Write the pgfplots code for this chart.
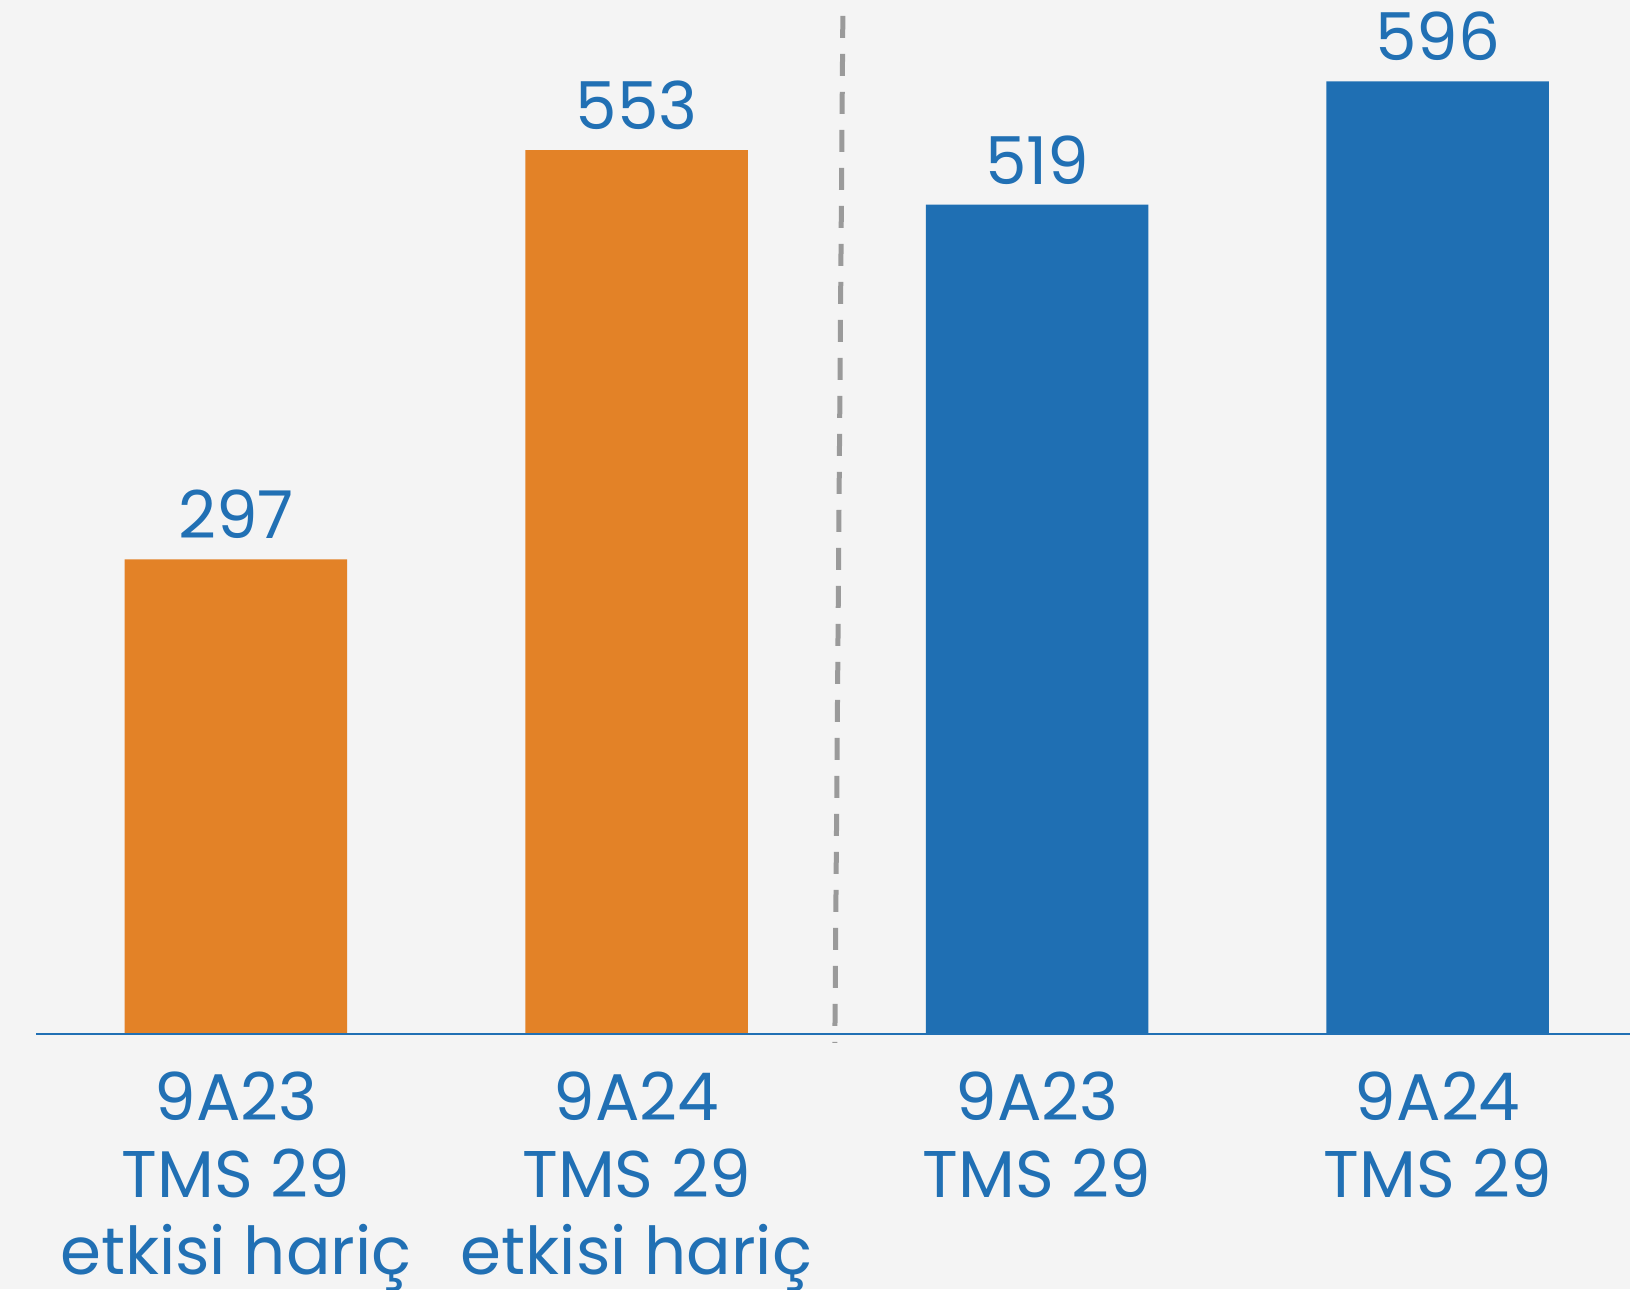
\documentclass[border=0pt]{standalone}
\usepackage{pgfplots}
\pgfplotsset{compat=1.18}
\usepackage{fontspec}
\setmainfont{Poppins}
\definecolor{bgc}{HTML}{F4F4F4}
\definecolor{orng}{HTML}{E38227}
\definecolor{blu}{HTML}{1F6FB3}
\definecolor{tblue}{HTML}{2170B4}
\definecolor{dashgray}{HTML}{9A9A9A}
\begin{document}
\begin{tikzpicture}
\begin{axis}[
  name=main,
  scale only axis, width=815pt, height=644.5pt,
  xmin=-0.589, xmax=3.480, ymin=-159.6, ymax=647,
  axis x line=middle, axis y line=none,
  x axis line style={draw=none,-},
  ytick=\empty,
  xtick={0,1,2,3},
  xticklabels={{9A23\\TMS 29\\etkisi hariç},{9A24\\TMS 29\\etkisi hariç},{9A23\\TMS 29},{9A24\\TMS 29}},
  major tick length=0pt,
  hide obscured x ticks=false,
  xticklabel style={font=\fontsize{33}{38.5}\selectfont, text=tblue, align=center, anchor=north, inner sep=0pt, yshift=-19pt},
  axis background/.style={fill=bgc, draw=none},
  ybar, bar width=111.25pt, bar shift=0pt,
  nodes near coords,
  every node near coord/.append style={font=\fontsize{33}{38.5}\selectfont, text=tblue, inner sep=0pt, yshift=10pt, anchor=south},
  /pgf/number format/assume math mode=true,
]
\addplot[fill=orng, draw=none] coordinates {(0,297) (1,553)};
\addplot[fill=blu, draw=none] coordinates {(2,519) (3,596)};
\draw[tblue, line width=1pt] (axis cs:-0.498,0) -- (axis cs:3.48,0);
\draw[dashgray, line width=2.5pt, dash pattern=on 11pt off 8pt] (axis cs:1.515,637) -- (axis cs:1.495,-5.6);
\end{axis}
\pgfresetboundingbox
\path[use as bounding box] (main.south west) rectangle (main.north east);
\end{tikzpicture}
\end{document}
